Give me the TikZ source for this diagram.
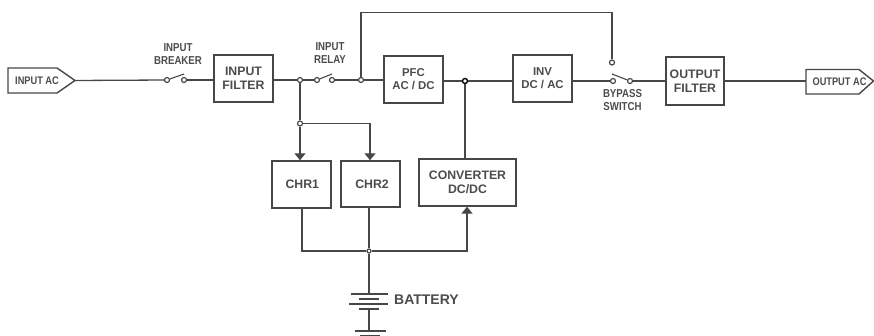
\documentclass[tikz,border=0pt]{standalone}
\usepackage{fontspec}
\setmainfont{Liberation Sans}
\newfontfamily\narrowf[FakeStretch=0.84]{Liberation Sans}
\usetikzlibrary{arrows.meta}
\definecolor{ink}{gray}{0.28}
\definecolor{txt}{gray}{0.30}
\tikzset{
  x=1pt,y=-1pt,
  wire/.style={draw=ink,line width=1.3pt},
  feed/.style={wire,-{Triangle[width=11pt,length=7pt]}},
  blockbox/.style={draw=ink,line width=1.4pt,inner sep=0pt,align=center,text=txt,
    font=\fontsize{12.3}{13.5}\selectfont\bfseries},
  smallblock/.style={blockbox,font=\fontsize{11.4}{13}\selectfont\bfseries},
  tagbox/.style={draw=ink,line width=1.4pt,fill=white},
  tagtext/.style={inner sep=0pt,text=txt,font=\narrowf\fontsize{11}{12}\selectfont\bfseries},
  note/.style={inner sep=0pt,align=center,text=txt,font=\narrowf\fontsize{11.5}{13}\selectfont\bfseries},
  term/.style={circle,draw=ink,line width=1.2pt,fill=white,minimum size=5pt,inner sep=0pt},
  plate/.style={draw=ink,line width=1.4pt},
}
\begin{document}
\begin{tikzpicture}
\useasboundingbox (0,0) rectangle (874,336);
% blocks
\node[blockbox,minimum width=59pt,minimum height=47pt] (ifilt) at (243.5,78.5) {INPUT\\FILTER};
\node[smallblock,minimum width=59pt,minimum height=47pt] (pfc) at (413.5,79.5) {PFC\\AC / DC};
\node[smallblock,minimum width=59pt,minimum height=47pt] (inv) at (542.5,78.5) {INV\\DC / AC};
\node[blockbox,minimum width=58pt,minimum height=48pt] (ofilt) at (695,81) {OUTPUT\\FILTER};
\node[blockbox,minimum width=59pt,minimum height=47pt,text depth=0pt] (chr1) at (301.5,184.5) {\hspace{1.5pt}CHR1};
\node[blockbox,minimum width=59pt,minimum height=46pt,text depth=0pt] (chr2) at (370.5,184) {\hspace{3pt}CHR2};
\node[blockbox,minimum width=97pt,minimum height=47pt] (conv) at (467.5,182.5) {CONVERTER\\DC/DC};
% tags
\draw[tagbox] (8,68) -- (57,68) -- (75,80.5) -- (57,93) -- (8,93) -- cycle;
\node[tagtext] (intag) at (37,81) {INPUT AC};
\coordinate (intip) at (75,80.5);
\draw[tagbox] (806,69.5) -- (859,69.5) -- (873.5,81) -- (859,94) -- (806,94) -- cycle;
\node[tagtext] (outtag) at (839.5,82) {OUTPUT AC};
\coordinate (outtip) at (806,81);
% labels
\node[note] (lbreak) at (178,54) {INPUT\\BREAKER};
\node[note] (lrelay) at (330,53.5) {INPUT\\RELAY};
\node[note] (lbyp) at (622.5,100) {BYPASS\\SWITCH};
\node[inner sep=0pt,text=txt,font=\fontsize{14}{16}\selectfont\bfseries,anchor=west] (lbat) at (394,300) {BATTERY};
% terminals and junctions
\node[term] (b1) at (167,80) {};
\node[term] (b2) at (184,80) {};
\node[term] (r1) at (317,80) {};
\node[term] (r2) at (332,80) {};
\node[term] (s1) at (613,81) {};
\node[term] (s2) at (630,81) {};
\node[term] (s3) at (612,62.5) {};
\node[term] (j1) at (300,80) {};
\node[term] (j2) at (300,123.5) {};
\node[term] (j3) at (361,80) {};
\node[term,draw=black,line width=1.4pt] (j4) at (465,81) {};
\node[term,minimum size=4pt] (j5) at (369,251) {};
% coordinates
\coordinate (c2top) at (370,123.5);
\coordinate (top1) at (361,12.5);
\coordinate (top2) at (612,12.5);
\coordinate (c1bot) at (302,251);
\coordinate (convin) at (467,251);
\coordinate (batp) at (369,294);
\coordinate (batn) at (369,309);
\coordinate (gnd) at (369,331);
% main line
\draw[wire] (intip) -- (b1);
\draw[wire] (b2) -- (ifilt.west |- b2);
\draw[wire] (ifilt.east |- j1) -- (j1);
\draw[wire] (j1) -- (r1);
\draw[wire] (r2) -- (j3);
\draw[wire] (j3) -- (pfc.west |- j3);
\draw[wire] (pfc.east |- j4) -- (j4);
\draw[wire] (j4) -- (inv.west |- j4);
\draw[wire] (inv.east |- s1) -- (s1);
\draw[wire] (s2) -- (ofilt.west |- s2);
\draw[wire] (ofilt.east |- outtip) -- (outtip);
% switch levers
\draw[wire,line width=1.1pt] (b1) -- (184,74);
\draw[wire,line width=1.1pt] (r1) -- (332,74);
\draw[wire,line width=1.1pt] (612,74) -- (s2);
% bypass
\draw[wire] (j3) -- (top1) -- (top2) -- (s3);
% chargers
\draw[wire] (j1) -- (j2);
\draw[feed] (j2) -- (j2 |- chr1.north);
\draw[feed] (j2) -- (c2top) -- (c2top |- chr2.north);
% converter
\draw[wire] (j4) -- (j4 |- conv.north);
\draw[wire] (chr1.south -| c1bot) -- (c1bot) -- (j5);
\draw[wire] (chr2.south -| j5) -- (j5);
\draw[feed] (j5) -- (convin) -- (convin |- conv.south);
% battery
\draw[wire,line width=1.6pt] (j5) -- (batp);
\draw[plate] (351,294) -- (388,294);
\draw[plate] (359,299) -- (379,299);
\draw[plate] (349,304) -- (388,304);
\draw[plate] (359,309) -- (379,309);
\draw[wire] (batn) -- (gnd);
\draw[plate] (355,331) -- (386,331);
\draw[plate] (360,335.5) -- (380,335.5);
\end{tikzpicture}
\end{document}
